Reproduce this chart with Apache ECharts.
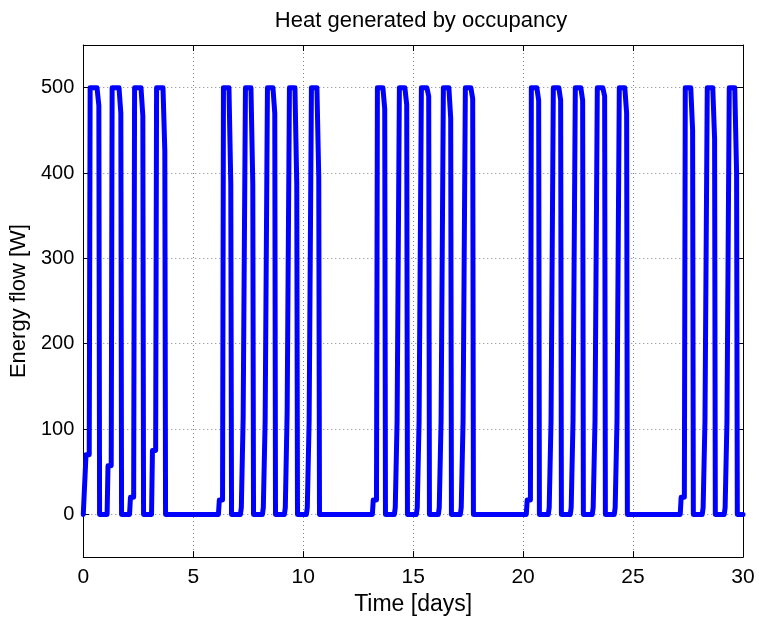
<!DOCTYPE html>
<html><head><meta charset="utf-8">
<script src="https://cdn.jsdelivr.net/npm/echarts@6/dist/echarts.min.js"></script>
<style>html,body{margin:0;padding:0;background:#fff}#c{width:759px;height:621px}</style>
</head><body><div id="c"></div>
<script>
// Working days (day index) shown as occupancy pulses
const workDays   = [0,1,2,3, 6,7,8,9,10, 13,14,15,16,17, 20,21,22,23,24, 27,28,29];
// arrival shift per working day [h] (first week starts earlier)
const arriveShift= [-1.5,-1.5,-1,-1, 0,0,0,0,0, 0,0,0,0,0, 0,0,0,0,0, 0,0,0];
// early-morning small load [W]
const earlyLoad  = [70,57,20,75, 17,8,8,8,8, 17,8,8,8,8, 17,8,8,8,8, 20,8,8];
// morning partial load [W]
const morningLoad= [70,57,20,75, 17,114,110,120,110, 17,110,110,110,110, 17,110,110,110,110, 20,110,110];
// late-afternoon load before leaving [W]
const eveningLoad= [479,470,467,426, 387,387,470,387,395, 475,480,490,464,487, 485,485,485,490,470, 450,440,400];
const fullLoad = 500;
// hour-of-day breakpoints of the daily profile
const profileHours = [3.5, 4.5, 5.5, 6.5, 8, 9, 15, 17, 17.8];
const xTicks = [0,5,10,15,20,25,30];
const yTicks = [0,100,200,300,400,500];

const data = [[0,0]];
workDays.forEach((d,i)=>{
  const vals = [0, earlyLoad[i], earlyLoad[i], morningLoad[i], morningLoad[i], fullLoad, fullLoad, eveningLoad[i], 0];
  profileHours.forEach((h,k)=>{
    const hh = k < 6 ? h + arriveShift[i] : h;
    data.push([d + hh/24, vals[k]]);
  });
});
data.push([30,0]);

const font = 'Liberation Sans, Arial, Helvetica, sans-serif';
const grid = {left:83, right:16, top:45, bottom:55, containLabel:false};
const gridLine = {show:true, lineStyle:{color:'#808080', type:[1,3], width:1}};
const chart = echarts.init(document.getElementById('c'), null, {renderer:'canvas'});
chart.setOption({
  animation:false,
  backgroundColor:'#fff',
  title:{text:'Heat generated by occupancy', left:416, textAlign:'center', top:5,
    textStyle:{fontFamily:font, fontSize:22, fontWeight:'normal', color:'#000'}},
  grid,
  xAxis:[{type:'value', min:0, max:30, interval:5, position:'bottom',
    name:'Time [days]', nameLocation:'middle', nameGap:29,
    nameTextStyle:{fontFamily:font, fontSize:23, color:'#000'},
    axisLine:{show:true, onZero:false, lineStyle:{color:'#000', width:1}},
    axisTick:{show:true, inside:true, length:6, lineStyle:{color:'#000'}},
    axisLabel:{fontFamily:font, fontSize:21, color:'#000', margin:10},
    splitLine:gridLine},
   {type:'value', min:0, max:30, interval:5, position:'top',
    axisLine:{show:true, onZero:false, lineStyle:{color:'#000', width:1}},
    axisTick:{show:true, inside:true, length:6, lineStyle:{color:'#000'}},
    axisLabel:{show:false}, splitLine:{show:false}}],
  yAxis:[{type:'value', min:-50, max:550, position:'left',
    name:'Energy flow [W]', nameLocation:'middle', nameGap:40,
    nameTextStyle:{fontFamily:font, fontSize:22, color:'#000'},
    axisLine:{show:true, onZero:false, lineStyle:{color:'#000', width:1}},
    axisTick:{show:true, inside:true, length:6, lineStyle:{color:'#000'}, customValues:yTicks},
    axisLabel:{fontFamily:font, fontSize:20, color:'#000', margin:9, customValues:yTicks},
    splitLine:gridLine},
   {type:'value', min:-50, max:550, position:'right',
    axisLine:{show:true, onZero:false, lineStyle:{color:'#000', width:1}},
    axisTick:{show:true, inside:true, length:6, lineStyle:{color:'#000'}, customValues:yTicks},
    axisLabel:{show:false, customValues:yTicks}, splitLine:{show:false}}],
  series:[{type:'line', data, xAxisIndex:0, yAxisIndex:0, symbol:'none',
    lineStyle:{color:'#0000ff', width:5, join:'round', cap:'round'}, z:5}]
});
</script></body></html>
